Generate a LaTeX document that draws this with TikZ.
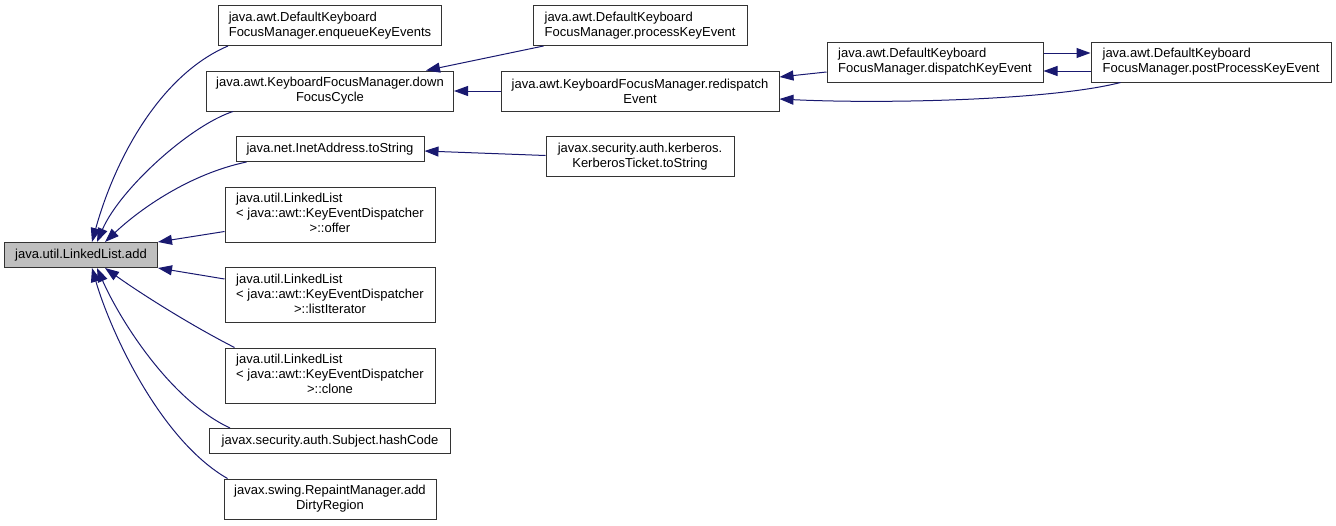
\documentclass[tikz,border=0pt]{standalone}
\usepackage{fontspec}
\setmainfont{Liberation Sans}
\usetikzlibrary{arrows.meta,positioning}
\definecolor{midnight}{RGB}{25,25,112}
\definecolor{boxgray}{RGB}{191,191,191}
\newcommand{\llist}[1]{\begin{tabular}{@{}l@{}}java.util.LinkedList\\< java::awt::KeyEventDispatcher\\\multicolumn{1}{@{}c@{}}{>::#1}\end{tabular}}

\begin{document}
\begin{tikzpicture}[
  x=1pt, y=-1pt,
  every node/.style={font=\fontsize{13}{15}\selectfont},
  fnbox/.style={draw=black!80, line width=1pt, fill=white, inner sep=0pt, minimum height=40pt, align=center},
  onel/.style={minimum height=25pt},
  threel/.style={minimum height=55pt},
  calls/.style={draw=midnight, line width=1pt, -{Triangle[length=14pt,width=10pt]}},
  node distance=24.5pt
]
\useasboundingbox (0,0) rectangle (1336,525);

\node[fnbox, onel, fill=boxgray, minimum width=153pt] (add) at (81,255) {java.util.LinkedList.add};

% callers of add
\node[fnbox, align=left, minimum width=223pt, anchor=north] (enqueue) at (330,5) {java.awt.DefaultKeyboard\\FocusManager.enqueueKeyEvents};
\node[fnbox, minimum width=247pt, below=of enqueue] (downfocus) {java.awt.KeyboardFocusManager.down\\FocusCycle};
\node[fnbox, onel, minimum width=188pt, below=of downfocus] (inet) {java.net.InetAddress.toString};
\node[fnbox, threel, minimum width=210pt, below=of inet] (offer) {\llist{offer}};
\node[fnbox, threel, minimum width=210pt, below=of offer] (listit) {\llist{listIterator}};
\node[fnbox, threel, minimum width=210pt, below=of listit] (clone) {\llist{clone}};
\node[fnbox, onel, minimum width=241pt, below=of clone] (hashcode) {javax.security.auth.Subject.hashCode};
\node[fnbox, minimum width=212pt, below=of hashcode] (dirty) {javax.swing.RepaintManager.add\\DirtyRegion};

% second level
\node[fnbox, align=left, minimum width=214pt, anchor=north] (process) at (640,5) {java.awt.DefaultKeyboard\\FocusManager.processKeyEvent};
\node[fnbox, minimum width=278pt, below=of process] (redispatch) {java.awt.KeyboardFocusManager.redispatch\\Event};
\node[fnbox, minimum width=188pt, below=of redispatch] (kerberos) {javax.security.auth.kerberos.\\KerberosTicket.toString};

\node[fnbox, align=left, minimum width=216pt] (dispatch) at (935,62) {java.awt.DefaultKeyboard\\FocusManager.dispatchKeyEvent};
\node[fnbox, align=left, minimum width=240pt, right=47pt of dispatch] (postproc) {java.awt.DefaultKeyboard\\FocusManager.postProcessKeyEvent};

% curved calls into add
\draw[calls] ([xshift=10pt]enqueue.south west) .. controls +(-68,29) and +(23,-83) .. ([xshift=11pt]add.north);
\draw[calls] ([xshift=27pt]downfocus.south west) .. controls +(-43,14) and +(23,-53) .. ([xshift=16pt]add.north);
\draw[calls] ([xshift=11pt]inet.south west) .. controls +(-57,12) and +(35,-33) .. ([xshift=24pt]add.north);
\draw[calls] ([yshift=-17pt]offer.west) -- (add.north east);
\draw[calls] ([yshift=16pt]listit.west) -- (add.south east);
\draw[calls] ([xshift=10pt]clone.north west) .. controls +(-45,-23) and +(35,25) .. ([xshift=24pt]add.south);
\draw[calls] ([xshift=21pt]hashcode.north west) .. controls +(-60,-28) and +(23,52) .. ([xshift=16pt]add.south);
\draw[calls] ([xshift=4pt]dirty.north west) .. controls +(-68,-39) and +(18,62) .. ([xshift=11pt]add.south);

% further calls
\draw[calls] ([xshift=11pt]process.south west) -- ([xshift=-28pt]downfocus.north east);
\draw[calls] (redispatch) -- (downfocus);
\draw[calls] ([yshift=1pt]kerberos.west) -- ([yshift=-2pt]inet.east);
\draw[calls] ([yshift=-10pt]dispatch.west) -- ([yshift=14pt]redispatch.east);
\draw[calls] ([xshift=30pt]postproc.south west) .. controls +(-70,18) and +(101,5) .. ([yshift=-8pt]redispatch.east);
\draw[calls] ([yshift=9pt]dispatch.east) -- ([yshift=9pt]postproc.west);
\draw[calls] ([yshift=-9pt]postproc.west) -- ([yshift=-9pt]dispatch.east);
\end{tikzpicture}
\end{document}
